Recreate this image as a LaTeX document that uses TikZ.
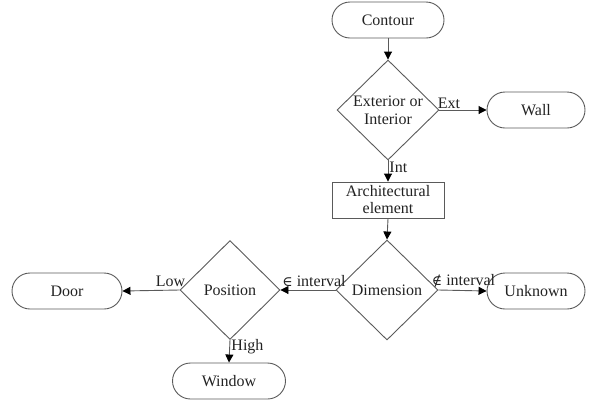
\documentclass[tikz,border=0pt]{standalone}
\usepackage{fontspec}
\setmainfont{Liberation Serif}
\newfontfamily\mathsym{DejaVu Serif}
\usetikzlibrary{shapes.geometric,arrows.meta}
\definecolor{linegray}{HTML}{5A5A5A}
\definecolor{txt}{HTML}{222222}
\tikzset{
  x=1pt, y=-1pt,
  every node/.style={font=\fontsize{16}{17}\selectfont, text=txt},
  term/.style={draw=linegray, line width=0.9pt, rounded corners=18pt, minimum height=36pt, inner sep=0pt},
  procbox/.style={draw=linegray, line width=0.9pt, rectangle, minimum width=112pt, minimum height=36pt, inner sep=1pt, align=center},
  decision/.style={draw=linegray, line width=0.9pt, diamond, inner sep=0pt, minimum width=102pt, minimum height=100pt},
  dtext/.style={text=txt, inner sep=1pt, align=center},
  flow/.style={draw=linegray, line width=0.9pt, -{Triangle[length=8pt,width=8pt,black]}},
  elab/.style={inner sep=1pt}
}
\begin{document}
\begin{tikzpicture}
\useasboundingbox (0,0) rectangle (592,400);
\node[term, minimum width=112pt] (contour) at (388,20) {Contour};
\node[decision, label={[dtext,font=\fontsize{16}{18}\selectfont]center:Exterior or\\Interior}] (d1) at (388,110) {};
\node[term, minimum width=98pt] (wall) at (536,110) {Wall};
\node[procbox] (arch) at (388,200) {Architectural\\element};
\node[decision, label={[dtext]center:Dimension}] (dim) at (387,290) {};
\node[term, minimum width=98pt] (unknown) at (536,291) {Unknown};
\node[decision, minimum width=100pt, minimum height=99pt, label={[dtext]center:Position}] (pos) at (230,290) {};
\node[term, minimum width=110pt] (door) at (67,291) {Door};
\node[term, minimum width=113pt] (window) at (229,381) {Window};

\draw[flow] (contour.south) -- (d1.north);
\draw[flow] (d1.east) -- node[elab, pos=0, above right, xshift=-3pt] (lext) {Ext} (wall.west);
\draw[flow] (d1.south) -- node[elab, pos=0, below right] (lint) {Int} (arch.north);
\draw[flow] (arch.south) -- (dim.north);
\draw[flow] (dim.east) -- node[elab, midway, above, xshift=1pt, yshift=2pt] (lnotin) {{\mathsym\fontsize{14}{17}\selectfont ∉} interval} (unknown.west);
\draw[flow] (dim.west) -- node[elab, midway, above, xshift=6pt, yshift=2pt] (lin) {{\mathsym\fontsize{14}{17}\selectfont ∈} interval} (pos.east);
\draw[flow] (pos.west) -- node[elab, pos=0, above left, xshift=7pt, yshift=2pt] (llow) {Low} (door.east);
\draw[flow] (pos.south) -- node[elab, pos=0, below right, yshift=2pt] (lhigh) {High} (window.north);
\end{tikzpicture}
\end{document}
